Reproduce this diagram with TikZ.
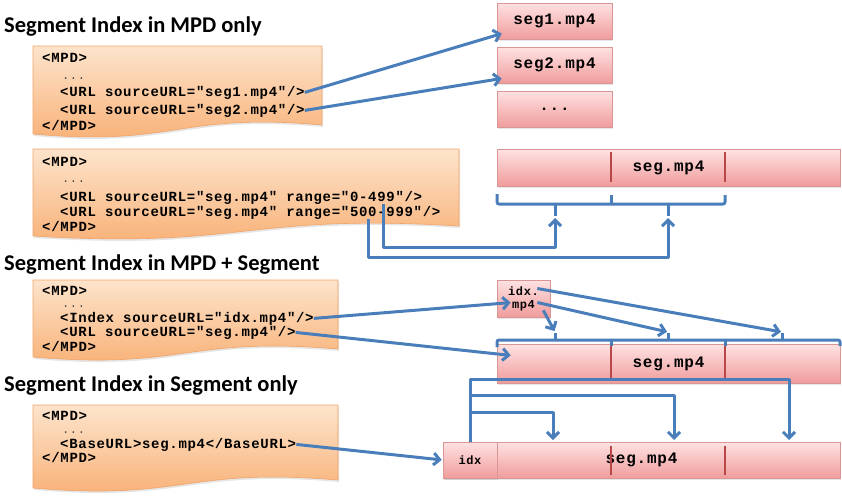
\documentclass[tikz,border=0pt]{standalone}
\usepackage{fontspec}
\setmainfont{Carlito}
\newfontfamily\codefont{Liberation Mono}[LetterSpace=5,Ligatures=TeXOff]
\usetikzlibrary{arrows.meta,calc,shadows}

\definecolor{linkblue}{HTML}{4A7EBB}
\definecolor{doctop}{HTML}{FDE4CC}
\definecolor{docbot}{HTML}{F8AE72}
\definecolor{docline}{HTML}{F2A468}
\definecolor{segtop}{HTML}{FFE2E2}
\definecolor{segbot}{HTML}{F09C9C}
\definecolor{segline}{HTML}{D99694}
\definecolor{segcut}{HTML}{B8474A}

\tikzset{
  heading/.style={anchor=west,inner sep=0pt,font=\bfseries\fontsize{22.5}{26}\selectfont},
  codeline/.style={anchor=base west,inner sep=0pt,font=\codefont\bfseries\fontsize{14}{16}\selectfont},
  codedots/.style={anchor=base west,inner sep=0pt,text=black!70,font=\codefont\fontsize{12}{14}\selectfont},
  docshape/.style={draw=docline,line width=0.6pt,top color=doctop,bottom color=docbot,
    drop shadow={opacity=0.2,shadow xshift=1pt,shadow yshift=-2pt}},
  segbox/.style={draw=segline,line width=0.6pt,top color=segtop,bottom color=segbot,inner sep=0pt,
    font=\codefont\bfseries\fontsize{16}{18}\selectfont,
    drop shadow={opacity=0.2,shadow xshift=1pt,shadow yshift=-2pt}},
  idxtext/.style={font=\codefont\bfseries\fontsize{12}{13}\selectfont,align=center},
  cut/.style={draw=segcut,line width=1.5pt},
  link/.style={draw=linkblue,line width=3pt,line join=round,-{Straight Barb[length=6pt,width=12pt]}},
  brace/.style={draw=linkblue,line width=3pt,line join=round,rounded corners=2pt}
}

% x1, top, x2, bottom left, bottom right
\newcommand{\codedoc}[5]{%
  \pgfmathsetmacro{\docmid}{(#1+#3)/2}
  \path[docshape] (#1,#2) -- (#3,#2) -- (#3,#5)
    .. controls (\docmid,#5-13) and (\docmid,#4+13) .. (#1,#4) -- cycle;}

\begin{document}
\begin{tikzpicture}[x=1pt,y=-1pt,shorten >=1pt]
    \useasboundingbox (0,0) rectangle (842,496);

    \node[heading] (head1) at (4,27) {Segment Index in MPD only};
    \node[heading] (head2) at (4,265) {Segment Index in MPD + Segment};
    \node[heading] (head3) at (4,386) {Segment Index in Segment only};

    \codedoc{33}{46}{322}{134}{125}
    \codedoc{33}{149}{459}{236}{226}
    \codedoc{33}{280}{338}{357}{349}
    \codedoc{33}{405}{338}{488}{480}

    \node[codeline] (a0) at (42,62) {<MPD>};
    \node[codedots] (a1) at (62,79) {...};
    \node[codeline] (a2) at (60,96) {<URL sourceURL="seg1.mp4"/>};
    \node[codeline] (a3) at (60,114) {<URL sourceURL="seg2.mp4"/>};
    \node[codeline] (a4) at (42,130) {</MPD>};

    \node[codeline] (b0) at (42,166) {<MPD>};
    \node[codedots] (b1) at (62,182) {...};
    \node[codeline] (b2) at (60,201) {<URL sourceURL="seg.mp4" range="0-499"/>};
    \node[codeline] (b3) at (60,216) {<URL sourceURL="seg.mp4" range="500-999"/>};
    \node[codeline] (b4) at (42,231) {</MPD>};

    \node[codeline] (c0) at (42,295) {<MPD>};
    \node[codedots] (c1) at (62,307) {...};
    \node[codeline] (c2) at (60,322) {<Index sourceURL="idx.mp4"/>};
    \node[codeline] (c3) at (60,336) {<URL sourceURL="seg.mp4"/>};
    \node[codeline] (c4) at (42,351) {</MPD>};

    \node[codeline] (d0) at (42,420) {<MPD>};
    \node[codedots] (d1) at (62,433) {...};
    \node[codeline] (d2) at (60,448) {<BaseURL>seg.mp4</BaseURL>};
    \node[codeline] (d3) at (42,462) {</MPD>};

    % separate files
    \node[segbox,minimum width=115pt,minimum height=36pt] (seg1) at (554.5,21) {seg1.mp4};
    \node[segbox,minimum width=115pt,minimum height=36pt] (seg2) at (554.5,65) {seg2.mp4};
    \node[segbox,minimum width=115pt,minimum height=36pt] (segmore) at (554.5,109) {...};
    \draw[link] (a2.east) -- ($(seg1.south west)+(6,-6)$);
    \draw[link] (a3.east) -- ($(seg2.south west)+(6,-5)$);

    % byte ranges
    \node[segbox,minimum width=343pt,minimum height=37pt] (segA) at (668.5,167.5) {seg.mp4};
    \foreach \x in {611,725}
        \draw[cut] (\x,152) -- (\x,183);
    \draw[brace] (497,194) -- (497,204) -- (725,204) -- (725,194);
    \foreach \x in {555,668}
        \draw[brace] (\x,204) -- (\x,217);
    \draw[brace] (611,204) -- (611,194);
    \coordinate (rangeA) at (383,204);
    \coordinate (rangeB) at (368,219);
    \coordinate (partA) at (555,217);
    \coordinate (partB) at (668,217);
    \draw[link] (rangeA) |- (555,247) -- (partA);
    \draw[link] (rangeB) |- (668,257) -- (partB);

    % index file
    \node[segbox,idxtext,minimum width=53pt,minimum height=37pt] (idxfile) at (523.5,298.5) {idx.\\mp4};
    \node[segbox,minimum width=343pt,minimum height=39pt] (segB) at (668.5,363.5) {seg.mp4};
    \foreach \x in {611,725}
        \draw[cut] (\x,345) -- (\x,382);
    \draw[brace] (497,347) -- (497,340) -- (840,340) -- (840,347);
    \foreach \x in {611,725}
        \draw[brace] (\x,340) -- (\x,347);
    \foreach \x in {555,668,782}
        \draw[brace] (\x,340) -- (\x,332);
    \draw[link] (c2.east) -- ($(idxfile.west)+(15,4)$);
    \draw[link] (c3.east) -- ($(segB.west)+(15,-8)$);
    \draw[link] ($(idxfile.south east)+(-7,-7)$) -- (555,332);
    \draw[link] ($(idxfile.east)+(-13,4)$) -- (668,332);
    \draw[link] ($(idxfile.east)+(-13,-10)$) -- (782,332);

    % index in segment
    \node[segbox,minimum width=397pt,minimum height=36pt] (segC) at (641.5,460) {seg.mp4};
    \node[segbox,idxtext,minimum width=54pt,minimum height=36pt] (idxpart) at (470,460) {idx};
    \foreach \x in {611,725}
        \draw[cut] (\x,446) -- (\x,476);
    \draw[link] (idxpart.north) |- (789,379) -- (789,441);
    \draw[link] (470,395) -- (674,395) -- (674,441);
    \draw[link] (470,412) -- (553,412) -- (553,441);
    \draw[link] (d2.east) -- (idxpart.west);
\end{tikzpicture}
\end{document}
